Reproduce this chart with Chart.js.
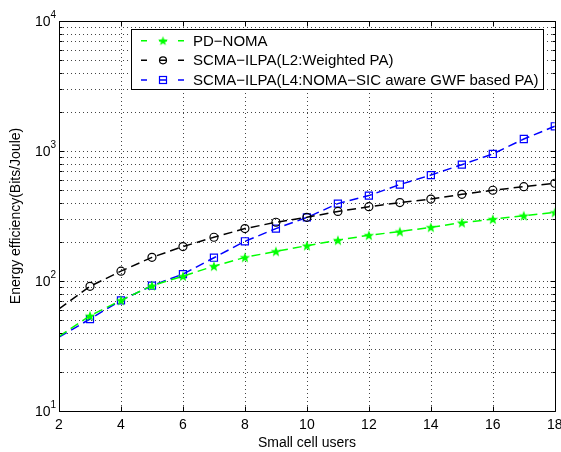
<!DOCTYPE html>
<html>
<head>
<meta charset="utf-8">
<script src="https://cdn.jsdelivr.net/npm/chart.js@4"></script>
<style>
  html, body { margin: 0; padding: 0; background: #fff; }
  canvas { display: block; }
</style>
</head>
<body>
<canvas id="chart" width="561" height="452"></canvas>
<script>
// values
const users = [2, 3, 4, 5, 6, 7, 8, 9, 10, 11, 12, 13, 14, 15, 16, 17, 18];
const pdNoma = [37.5, 54, 71, 92, 109, 130, 152, 169, 187, 206, 225, 240, 259, 281, 299, 318, 337];
const scmaL2 = [61, 91, 119, 152, 184, 217, 253, 283, 309, 343, 373, 401, 427, 464, 499, 532, 565];
const scmaL4 = [37, 51, 71, 92, 113, 151, 202, 253, 308, 394, 454, 552, 653, 785, 949, 1237, 1549];
const seriesNames = ["PD\u2212NOMA", "SCMA\u2212ILPA(L2:Weighted PA)", "SCMA\u2212ILPA(L4:NOMA\u2212SIC aware GWF based PA)"];
const xTicks = [2, 4, 6, 8, 10, 12, 14, 16, 18];
const yDecades = [1, 2, 3, 4];

const FONT = "'Liberation Sans', Arial, Helvetica, sans-serif";

function makeStar(size, color) {
  const c = document.createElement("canvas");
  c.width = c.height = size;
  const g = c.getContext("2d");
  const cx = size / 2, cy = size / 2 + 0.5, R = size / 2 - 0.5, r = R * 0.42;
  g.beginPath();
  for (let i = 0; i < 10; i++) {
    const a = -Math.PI / 2 + i * Math.PI / 5;
    const rad = i % 2 ? r : R;
    g.lineTo(cx + rad * Math.cos(a), cy + rad * Math.sin(a));
  }
  g.closePath();
  g.fillStyle = color;
  g.fill();
  return c;
}
const starImg = makeStar(12, "#00ff00");
const starSmall = makeStar(11, "#00ff00");

const pts = (vals) => users.map((x, i) => ({ x: x, y: vals[i] }));
const radii = users.map((x, i) => (i === 0 ? 0 : 4));

// grid, box, ticks, y labels, legend
const matlabAxes = {
  id: "matlabAxes",
  beforeDatasetsDraw(chart) {
    const { ctx, chartArea: a, scales: { x, y } } = chart;
    ctx.save();
    ctx.strokeStyle = "#444";
    ctx.lineWidth = 1;
    ctx.setLineDash([1, 3]);
    ctx.beginPath();
    xTicks.forEach(v => {
      const px = Math.round(x.getPixelForValue(v)) + 0.5;
      ctx.moveTo(px, a.top); ctx.lineTo(px, a.bottom);
    });
    for (let k = 1; k < 4; k++) {
      for (let m = 1; m < 10; m++) {
        const py = Math.round(y.getPixelForValue(m * Math.pow(10, k))) + 0.5;
        ctx.moveTo(a.left, py); ctx.lineTo(a.right, py);
      }
    }
    ctx.stroke();
    ctx.restore();
  },
  afterDatasetsDraw(chart) {
    const { ctx, chartArea: a, scales: { x, y } } = chart;
    ctx.save();
    ctx.strokeStyle = "#000";
    ctx.lineWidth = 1;
    ctx.setLineDash([]);
    const L = Math.round(a.left) + 0.5, R = Math.round(a.right) + 0.5;
    const T = Math.round(a.top) + 0.5, B = Math.round(a.bottom) + 0.5;
    ctx.beginPath();
    ctx.rect(L, T, R - L, B - T);
    xTicks.forEach(v => {
      const px = Math.round(x.getPixelForValue(v)) + 0.5;
      ctx.moveTo(px, B); ctx.lineTo(px, B - 5);
      ctx.moveTo(px, T); ctx.lineTo(px, T + 5);
    });
    for (let k = 1; k <= 4; k++) {
      for (let m = 1; m < 10; m++) {
        const val = m * Math.pow(10, k);
        if (val > 10000) break;
        const py = Math.round(y.getPixelForValue(val)) + 0.5;
        const len = m === 1 ? 5 : 3;
        ctx.moveTo(L, py); ctx.lineTo(L + len, py);
        ctx.moveTo(R, py); ctx.lineTo(R - len, py);
      }
    }
    ctx.stroke();

    // y decade labels 10^k
    ctx.fillStyle = "#000";
    yDecades.forEach(k => {
      const py = y.getPixelForValue(Math.pow(10, k));
      ctx.font = "14px " + FONT;
      ctx.textAlign = "right";
      ctx.textBaseline = "middle";
      ctx.fillText("10", L - 9, py + 1);
      ctx.font = "10px " + FONT;
      ctx.textAlign = "left";
      ctx.fillText(String(k), L - 9, py - 6);
    });

    // legend
    const bx = 131.5, by = 29.5, bw = 412, bh = 60;
    ctx.fillStyle = "#fff";
    ctx.fillRect(bx, by, bw, bh);
    ctx.strokeRect(bx, by, bw, bh);
    const rows = [40.7, 60.3, 80];
    chart.data.datasets.forEach((d, i) => {
      const ry = rows[i];
      ctx.strokeStyle = d.borderColor;
      ctx.lineWidth = 1.5;
      ctx.beginPath();
      ctx.moveTo(141, ry); ctx.lineTo(147, ry);
      ctx.moveTo(159, ry); ctx.lineTo(167, ry);
      ctx.moveTo(178, ry); ctx.lineTo(184, ry);
      ctx.stroke();
      ctx.lineWidth = 1.2;
      if (i === 0) {
        ctx.drawImage(starSmall, 163 - 5.5, ry - 5.5);
      } else if (i === 1) {
        ctx.beginPath(); ctx.arc(163, ry, 3.5, 0, Math.PI * 2); ctx.stroke();
      } else {
        ctx.strokeRect(159.5, ry - 3.5, 7, 7);
      }
      ctx.fillStyle = "#000";
      ctx.font = "15px " + FONT;
      ctx.textAlign = "left";
      ctx.textBaseline = "middle";
      ctx.fillText(seriesNames[i], 193, ry + 1);
    });
    ctx.restore();
  }
};

new Chart(document.getElementById("chart"), {
  type: "line",
  data: {
    datasets: [
      {
        label: seriesNames[0], data: pts(pdNoma),
        borderColor: "#00ff00", backgroundColor: "#00ff00",
        borderWidth: 1.5, borderDash: [9, 5],
        pointStyle: starImg, pointRadius: radii, fill: false, tension: 0
      },
      {
        label: seriesNames[1], data: pts(scmaL2),
        borderColor: "#000000", backgroundColor: "rgba(0,0,0,0)",
        borderWidth: 1.5, borderDash: [9, 5],
        pointStyle: "circle", pointRadius: radii, pointBorderWidth: 1.2,
        fill: false, tension: 0
      },
      {
        label: seriesNames[2], data: pts(scmaL4),
        borderColor: "#0000ff", backgroundColor: "rgba(0,0,0,0)",
        borderWidth: 1.5, borderDash: [9, 5],
        pointStyle: "rect", pointRadius: users.map((x, i) => (i === 0 ? 0 : 5)),
        pointBorderWidth: 1.2, fill: false, tension: 0
      }
    ]
  },
  options: {
    responsive: false,
    animation: false,
    devicePixelRatio: 1,
    layout: { padding: { left: 0, right: 6, top: 21, bottom: 0 } },
    plugins: { legend: { display: false }, tooltip: { enabled: false } },
    scales: {
      x: {
        type: "linear", min: 2, max: 18,
        afterBuildTicks: (s) => { s.ticks = xTicks.map(v => ({ value: v })); },
        grid: { display: false, drawTicks: false },
        border: { display: false },
        ticks: { color: "#000", font: { size: 14, family: FONT }, padding: 6, maxRotation: 0, autoSkip: false },
        title: { display: true, text: "Small cell users", color: "#000", font: { size: 14, family: FONT }, padding: { top: 0, bottom: 0 } },
        afterFit: (s) => { s.height = 41; s.paddingLeft = 0; s.paddingRight = 0; }
      },
      y: {
        type: "logarithmic", min: 10, max: 10000,
        grid: { display: false, drawTicks: false },
        border: { display: false },
        ticks: { callback: () => "", autoSkip: false },
        title: { display: true, text: "Energy efficiency(Bits/Joule)", color: "#000", font: { size: 14, family: FONT }, padding: { top: 8, bottom: 0 } },
        afterFit: (s) => { s.width = 59; s.paddingTop = 0; s.paddingBottom = 0; }
      }
    }
  },
  plugins: [matlabAxes]
});
</script>
</body>
</html>
